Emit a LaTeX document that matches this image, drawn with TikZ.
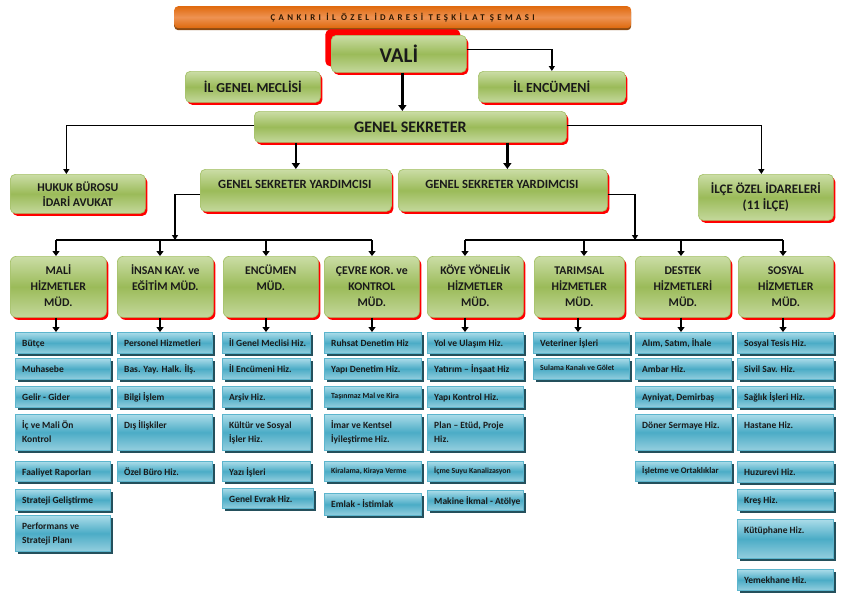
\documentclass[tikz,border=0pt]{standalone}
\usepackage{fontspec}
\setmainfont{Carlito}
\newfontfamily\titlefont[LetterSpace=38]{Carlito}
\usetikzlibrary{arrows.meta}
\definecolor{gtop}{HTML}{CBDDA6}
\definecolor{gmid}{HTML}{9BBB59}
\definecolor{gbot}{HTML}{C4D89C}
\definecolor{gborder}{HTML}{A6C26A}
\definecolor{gshadow}{HTML}{FF0000}
\definecolor{btop}{HTML}{ABDCE9}
\definecolor{bmid}{HTML}{4BACC6}
\definecolor{bbot}{HTML}{93CEDE}
\definecolor{bborder}{HTML}{5CB5CD}
\definecolor{bshadow}{HTML}{24505C}
\definecolor{otop}{HTML}{E06A0E}
\definecolor{omid}{HTML}{EE9252}
\definecolor{obot}{HTML}{DE690C}
\definecolor{oshadow}{HTML}{8C4A12}
\definecolor{txt}{HTML}{1A1A1A}
\definecolor{ttxt}{HTML}{2B1600}
\newcommand\subbx[7][]{%
  \node[bbox,minimum width={#5-#3},minimum height={#6-#4},anchor=north west] (#2) at (#3,#4) {};
  \node[stext,#1] (#2t) at ([xshift=7pt,yshift=-3.85pt]#2.north west) {\strut #7};}
\newcommand\gbx[7][]{%
  \node[gbox,#1,minimum width={#5-#3},minimum height={#6-#4},anchor=north west] (#2) at (#3,#4) {#7};}
\begin{document}
\begin{tikzpicture}[x=1pt,y=-1pt,
  gbox/.style={rounded corners=5pt, draw=gborder, line width=0.7pt,
    top color=gtop, bottom color=gbot, middle color=gmid,
    preaction={fill=gshadow, transform canvas={xshift=2pt,yshift=-2.5pt}},
    inner sep=1pt, font=\bfseries, text=txt, align=center},
  bbox/.style={draw=bborder, line width=0.7pt,
    top color=btop, bottom color=bbot, middle color=bmid,
    preaction={fill=bshadow, transform canvas={xshift=2.5pt,yshift=-2.5pt}},
    inner sep=0pt},
  stext/.style={font=\bfseries\fontsize{9.5}{14.5}\selectfont, text=txt, inner sep=0pt, align=left, anchor=north west},
  tinytext/.style={font=\bfseries\fontsize{7.8}{12}\selectfont},
  midtext/.style={font=\bfseries\fontsize{8.6}{12.5}\selectfont},
  mtext/.style={font=\bfseries\fontsize{11.8}{16}\selectfont, text=txt, inner sep=0pt, align=center, anchor=north},
  conn/.style={line width=1.3pt, -{Triangle[width=6pt,length=5pt]}},
  thk/.style={line width=2.6pt, -{Triangle[width=8pt,length=6pt]}},
  drop/.style={line width=1.9pt, -{Triangle[width=7pt,length=5pt]}},
  bus/.style={line width=1.8pt}]
\useasboundingbox (0,0) rectangle (842,595);
\fill[white] (0,0) rectangle (842,595);

% title
\node[rounded corners=4pt, top color=otop, bottom color=obot, middle color=omid,
  preaction={fill=oshadow, transform canvas={yshift=-2pt}},
  minimum width=457, minimum height=22, anchor=north west, inner sep=0pt,
  text=ttxt, font=\titlefont\bfseries\fontsize{8.8}{10}\selectfont] (title) at (174,6)
  {ÇANKIRI İL ÖZEL İDARESİ TEŞKİLAT ŞEMASI};

% top level
\gbx[preaction={fill=gshadow, transform canvas={xshift=-6pt,yshift=6pt}}, font=\bfseries\fontsize{21}{24}\selectfont]{vali}{331}{35}{466}{72}{VALİ}
\gbx[font=\bfseries\fontsize{13.7}{16}\selectfont]{ilgm}{185}{71}{320}{102}{İL GENEL MECLİSİ}
\gbx[font=\bfseries\fontsize{13.9}{16}\selectfont]{ilenc}{478}{71}{625}{102}{İL ENCÜMENİ}
\gbx[font=\bfseries\fontsize{16}{18}\selectfont]{gs}{254}{111}{566}{142}{GENEL SEKRETER}
\gbx[font=\bfseries\fontsize{11.9}{15}\selectfont]{hukuk}{10}{174}{145}{213}{HUKUK BÜROSU\\İDARİ AVUKAT}
\gbx{gsy1}{200}{169}{391}{211}{}
\gbx{gsy2}{398}{169}{607}{211}{}
\node[font=\bfseries\fontsize{12.6}{14}\selectfont, text=txt, inner sep=0pt, anchor=base] (gsy1t) at ([xshift=-1pt]gsy1.north |- 0,188) {GENEL SEKRETER YARDIMCISI};
\node[font=\bfseries\fontsize{12.6}{14}\selectfont, text=txt, inner sep=0pt, anchor=base] (gsy2t) at ([xshift=-1pt]gsy2.north |- 0,188) {GENEL SEKRETER YARDIMCISI};
\gbx[font=\bfseries\fontsize{13}{16}\selectfont]{ilce}{698}{174}{833}{220}{İLÇE ÖZEL İDARELERİ\\(11 İLÇE)}

% directorates
\gbx[rounded corners=6pt]{mali}{10}{256}{106}{317}{}
\gbx[rounded corners=6pt]{insan}{117}{256}{213}{317}{}
\gbx[rounded corners=6pt]{encm}{223}{256}{318}{317}{}
\gbx[rounded corners=6pt]{cevre}{324}{256}{419}{317}{}
\gbx[rounded corners=6pt]{koye}{427}{256}{523}{317}{}
\gbx[rounded corners=6pt]{tarim}{534}{256}{624}{317}{}
\gbx[rounded corners=6pt]{destek}{635}{256}{730}{317}{}
\gbx[rounded corners=6pt]{sosyal}{738}{256}{833}{317}{}
\node[mtext] (malit) at ([yshift=-6.8pt]mali.north) {\strut MALİ\\HİZMETLER\\MÜD.};
\node[mtext] (insant) at ([yshift=-6.8pt]insan.north) {\strut İNSAN KAY. ve\\EĞİTİM MÜD.};
\node[mtext] (encmt) at ([yshift=-6.8pt]encm.north) {\strut ENCÜMEN\\MÜD.};
\node[mtext] (cevret) at ([yshift=-6.8pt]cevre.north) {\strut ÇEVRE KOR. ve\\KONTROL\\MÜD.};
\node[mtext] (koyet) at ([yshift=-6.8pt]koye.north) {\strut KÖYE YÖNELİK\\HİZMETLER\\MÜD.};
\node[mtext] (tarimt) at ([yshift=-6.8pt]tarim.north) {\strut TARIMSAL\\HİZMETLER\\MÜD.};
\node[mtext] (destekt) at ([yshift=-6.8pt]destek.north) {\strut DESTEK\\HİZMETLERİ\\MÜD.};
\node[mtext] (sosyalt) at ([yshift=-6.8pt]sosyal.north) {\strut SOSYAL\\HİZMETLER\\MÜD.};

% sub units
\subbx{a1}{15}{332}{110}{353}{Bütçe}
\subbx{a2}{15}{358}{110}{379}{Muhasebe}
\subbx{a3}{15}{386}{110}{407}{Gelir - Gider}
\subbx{a4}{15}{414}{110}{450}{İç ve Mali Ön\\Kontrol}
\subbx{a5}{15}{461}{110}{481}{Faaliyet Raporları}
\subbx{a6}{15}{489}{110}{510}{Strateji Geliştirme}
\subbx{a7}{15}{515}{110}{551}{Performans ve\\Strateji Planı}

\subbx{b1}{117}{332}{212}{353}{Personel Hizmetleri}
\subbx{b2}{117}{358}{212}{379}{Bas. Yay. Halk. İlş.}
\subbx{b3}{117}{386}{212}{407}{Bilgi İşlem}
\subbx{b4}{117}{414}{212}{450}{Dış İlişkiler}
\subbx{b5}{117}{461}{212}{481}{Özel Büro Hiz.}

\subbx{c1}{222}{332}{310}{353}{İl Genel Meclisi Hiz.}
\subbx{c2}{222}{358}{310}{379}{İl Encümeni Hiz.}
\subbx{c3}{222}{386}{310}{407}{Arşiv Hiz.}
\subbx{c4}{222}{414}{310}{450}{Kültür ve Sosyal\\İşler Hiz.}
\subbx{c5}{222}{461}{310}{481}{Yazı İşleri}
\subbx{c6}{222}{488}{313}{508}{Genel Evrak Hiz.}

\subbx{e1}{324}{332}{421}{353}{Ruhsat Denetim Hiz}
\subbx{e2}{324}{358}{421}{379}{Yapı Denetim Hiz.}
\subbx[tinytext]{e3}{324}{386}{421}{407}{Taşınmaz Mal ve Kira}
\subbx{e4}{324}{414}{421}{450}{İmar ve Kentsel\\İyileştirme Hiz.}
\subbx[tinytext]{e5}{324}{461}{421}{481}{Kiralama, Kiraya Verme}
\subbx{e6}{324}{493}{421}{515}{Emlak - İstimlak}

\subbx{f1}{427}{332}{523}{353}{Yol ve Ulaşım Hiz.}
\subbx{f2}{427}{358}{523}{379}{Yatırım – İnşaat Hiz}
\subbx{f3}{427}{386}{523}{407}{Yapı Kontrol Hiz.}
\subbx{f4}{427}{414}{523}{450}{Plan – Etüd, Proje\\Hiz.}
\subbx[tinytext]{f5}{427}{461}{523}{481}{İçme Suyu Kanalizasyon}
\subbx{f6}{427}{490}{523}{510}{Makine İkmal - Atölye}

\subbx{g1}{533}{332}{629}{353}{Veteriner İşleri}
\subbx[tinytext]{g2}{533}{358}{629}{379}{Sulama Kanalı ve Gölet}

\subbx{h1}{635}{332}{731}{353}{Alım, Satım, İhale}
\subbx{h2}{635}{358}{731}{379}{Ambar Hiz.}
\subbx{h3}{635}{386}{731}{407}{Ayniyat, Demirbaş}
\subbx{h4}{635}{414}{731}{450}{Döner Sermaye Hiz.}
\subbx[midtext]{h5}{635}{461}{731}{481}{İşletme ve Ortaklıklar}

\subbx{k1}{737}{332}{833}{353}{Sosyal Tesis Hiz.}
\subbx{k2}{737}{358}{833}{379}{Sivil Sav. Hiz.}
\subbx{k3}{737}{386}{833}{407}{Sağlık İşleri Hiz.}
\subbx{k4}{737}{414}{833}{450}{Hastane Hiz.}
\subbx{k5}{737}{461}{833}{482}{Huzurevi Hiz.}
\subbx{k6}{737}{489}{833}{510}{Kreş Hiz.}
\subbx{k7}{737}{519}{833}{558}{Kütüphane Hiz.}
\subbx{k8}{737}{569}{833}{590}{Yemekhane Hiz.}

% connectors top
\draw[conn] ([yshift=4.5pt]vali.east) -| ([xshift=0pt]ilenc.north);
\draw[thk] ([xshift=3.5pt]vali.south) -- ([xshift=3.5pt]vali.south |- gs.north);
\draw[conn] ([yshift=1.5pt]gs.west) -| ([xshift=-11.5pt]hukuk.north);
\draw[conn] ([yshift=1.5pt]gs.east) -| ([xshift=-4.5pt]ilce.north);
\draw[thk] (gs.south -| gsy1.north) -- (gsy1.north);
\draw[thk] ([xshift=4.5pt]gs.south -| gsy2.north) -- ([xshift=4.5pt]gsy2.north);

% buses
\coordinate (fa) at (175,240);
\coordinate (fb) at (635,240);
\foreach \i/\x in {1/56,2/160,3/266,4/372,5/465,6/584,7/681,8/783}
  \coordinate (v\i) at (\x,240);
\foreach \i/\x in {1/56,2/160,3/266,4/372,5/465,6/578,7/681,8/783}
  \coordinate (w\i) at (\x,325);
\draw[conn, line width=1.6pt] ([yshift=-4pt]gsy1.west) -| (fa);
\draw[conn, line width=1.6pt] ([yshift=-4pt]gsy2.east) -| (fb);
\draw[bus] (v1) -- (v4);
\draw[bus] (v5) -- (v8);
\foreach \i/\n in {1/mali,2/insan,3/encm,4/cevre,5/koye,6/tarim,7/destek,8/sosyal}
  \draw[drop] (v\i) -- (v\i |- \n.north);
\foreach \i/\n/\s in {1/mali/a1,2/insan/b1,3/encm/c1,4/cevre/e1,5/koye/f1,6/tarim/g1,7/destek/h1,8/sosyal/k1}
  \draw[drop] (w\i |- \n.south) -- (w\i |- \s.north);
\end{tikzpicture}
\end{document}
